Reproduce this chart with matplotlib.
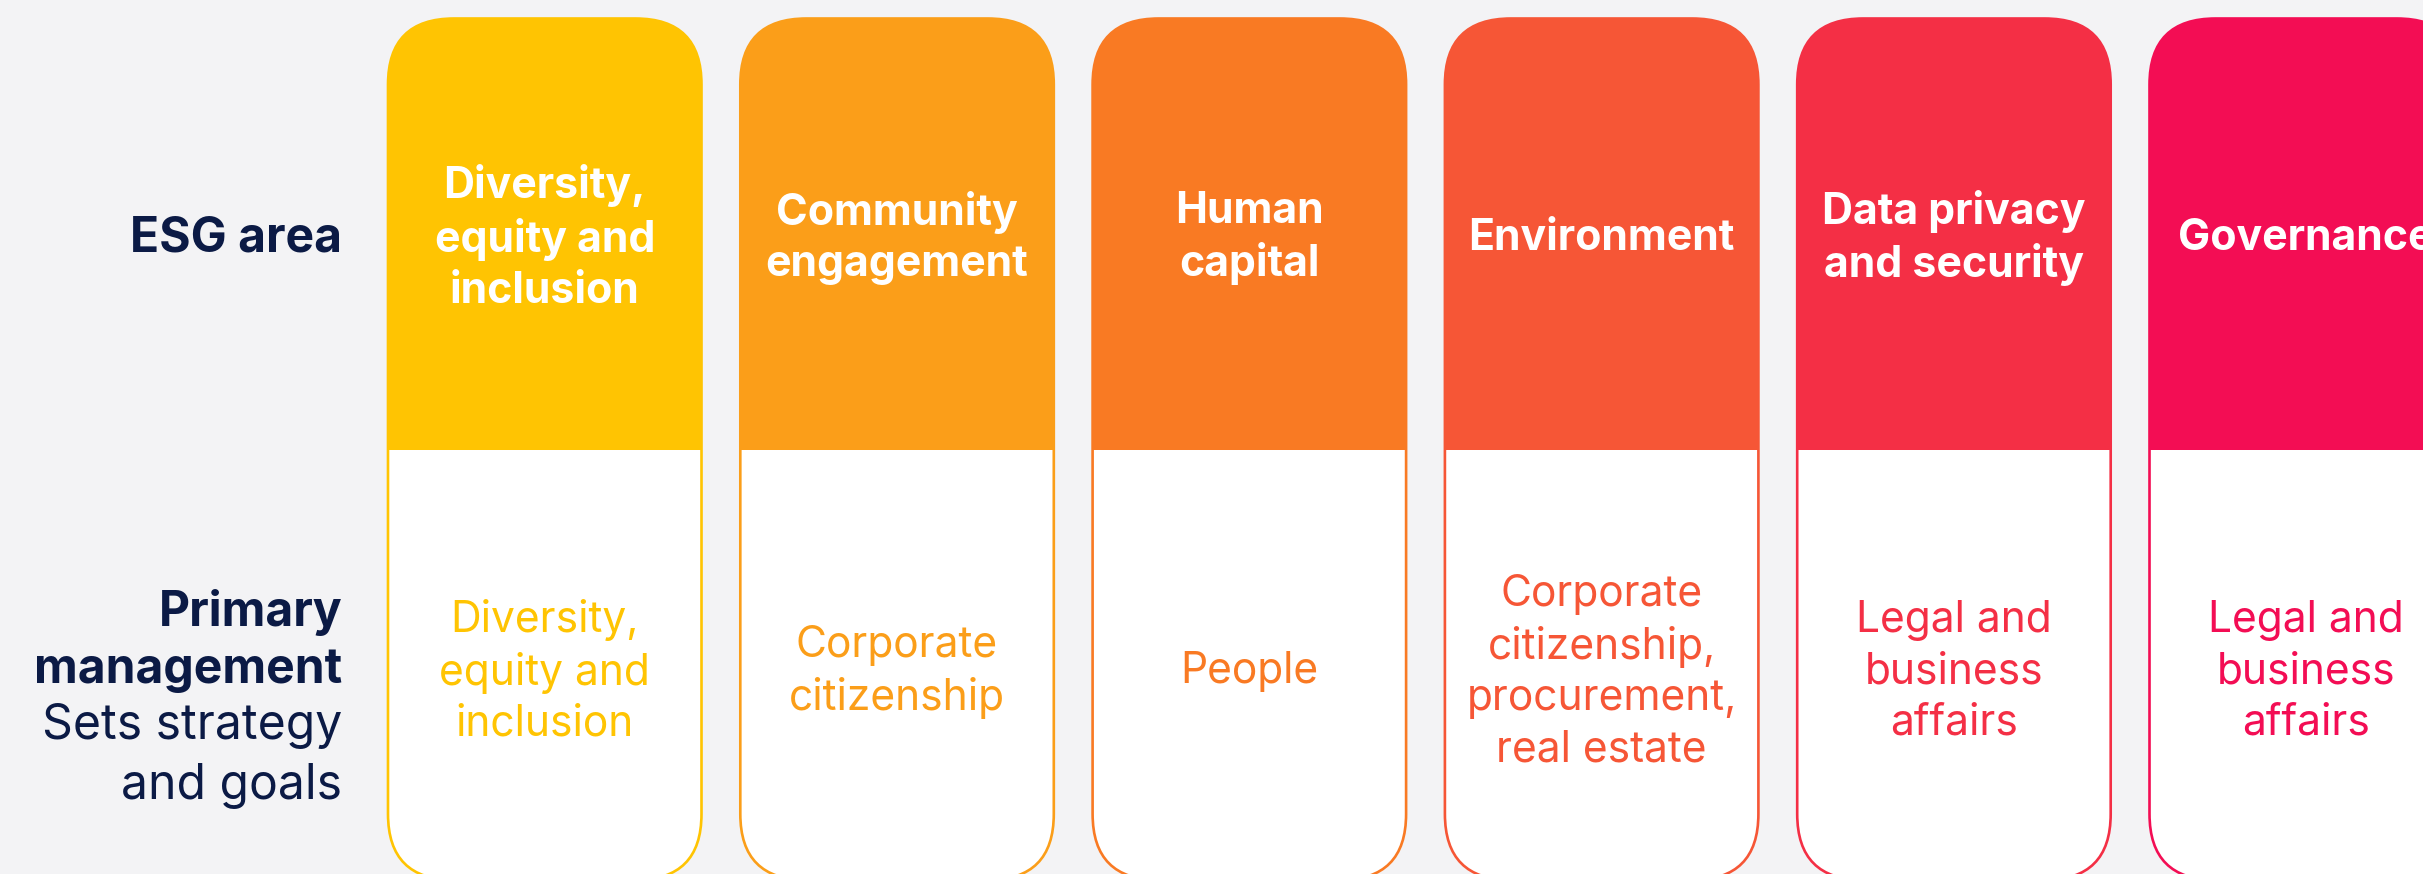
import matplotlib.pyplot as plt
from matplotlib.patches import FancyBboxPatch, Rectangle

# ESG areas (header row) and who owns them (body row)
areas = [
    "Diversity,\nequity and\ninclusion",
    "Community\nengagement",
    "Human\ncapital",
    "Environment",
    "Data privacy\nand security",
    "Governance",
]
owners = [
    "Diversity,\nequity and\ninclusion",
    "Corporate\ncitizenship",
    "People",
    "Corporate\ncitizenship,\nprocurement,\nreal estate",
    "Legal and\nbusiness\naffairs",
    "Legal and\nbusiness\naffairs",
]
colors = ["#FFC402", "#FB9E19", "#F97A23", "#F65636", "#F42F45", "#F30D54"]

row_labels = ["ESG area", "Primary\nmanagement"]
row_note = "Sets strategy\nand goals"

W, H = 2423, 874
BG = "#F3F3F5"
NAVY = "#0B1A45"
FONT = ["Inter", "DejaVu Sans"]

fig = plt.figure(figsize=(W / 100, H / 100), dpi=100)
fig.patch.set_facecolor(BG)
ax = fig.add_axes([0, 0, 1, 1])
ax.set_xlim(0, W)
ax.set_ylim(H, 0)
ax.axis("off")

x0, pitch, card_w = 388, 352.3, 313.5
top, split, bottom = 18.5, 449.5, 880
radius = 66
head_y, body_y = 238, 672

for i, (area, owner, col) in enumerate(zip(areas, owners, colors)):
    left = x0 + i * pitch
    card = FancyBboxPatch(
        (left, top), card_w, bottom - top,
        boxstyle=f"round,pad=0,rounding_size={radius}",
        facecolor="white", edgecolor=col, linewidth=1.9, zorder=2,
    )
    ax.add_patch(card)
    head = Rectangle((left - 2, top - 2), card_w + 4, split - top + 2,
                     facecolor=col, edgecolor="none", zorder=3)
    ax.add_patch(head)
    head.set_clip_path(card)

    cx = left + card_w / 2
    ax.text(cx, head_y, area, ha="center", va="center", color="white",
            fontsize=30.8, fontweight="bold", family=FONT,
            linespacing=1.32, zorder=4)
    ax.text(cx, body_y, owner, ha="center", va="center", color=col,
            fontsize=30.6, family=FONT, linespacing=1.32, zorder=4)

label_x = 342
ax.text(label_x, head_y, row_labels[0], ha="right", va="center", color=NAVY,
        fontsize=34.6, fontweight="bold", family=FONT)
ax.text(label_x, 641, row_labels[1], ha="right", va="center", color=NAVY,
        fontsize=34.6, fontweight="bold", family=FONT, linespacing=1.3)
ax.text(label_x, 756, row_note, ha="right", va="center", color=NAVY,
        fontsize=34.6, family=FONT, linespacing=1.38)

fig.savefig("out.png", dpi=100, facecolor=BG)
